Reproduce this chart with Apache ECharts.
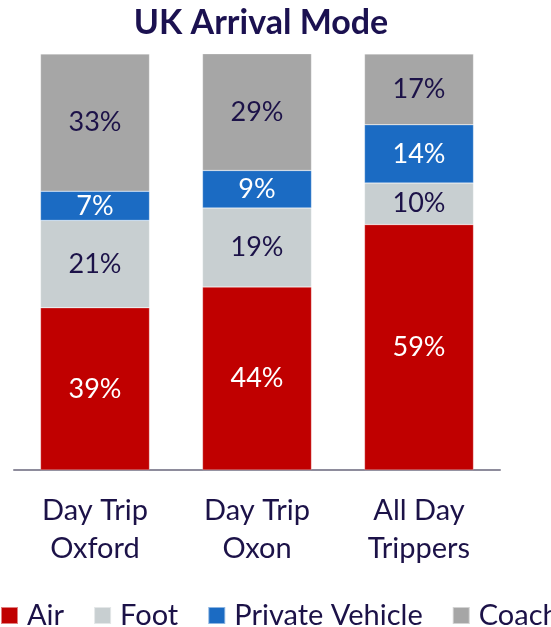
<!DOCTYPE html>
<html>
<head>
<meta charset="utf-8">
<script src="https://cdn.jsdelivr.net/npm/echarts@6/dist/echarts.min.js"></script>
<style>html,body{margin:0;padding:0;background:#fff}#c{width:551px;height:627px}</style>
</head>
<body>
<div id="c"></div>
<script>
const categories = ['Day Trip\nOxford', 'Day Trip\nOxon', 'All Day\nTrippers'];
const seriesNames = ['Air', 'Foot', 'Private Vehicle', 'Coach'];
const air = [39, 44, 59];
const foot = [21, 19, 10];
const privateVehicle = [7, 9, 14];
const coach = [33, 29, 17];

const colors = ['#C00000', '#C8CFD1', '#1B6BC3', '#A6A6A6'];
const labelColors = ['#FFFFFF', '#1C1248', '#FFFFFF', '#1C1248'];
const values = [air, foot, privateVehicle, coach];
const FONT = 'Lato';

const chart = echarts.init(document.getElementById('c'));
chart.setOption({
  animation: false,
  title: {
    text: 'UK Arrival Mode',
    left: 256, top: 1, textAlign: 'center',
    textStyle: { fontFamily: FONT, fontWeight: 'bold', fontSize: 34, color: '#1B1150' }
  },
  legend: {
    left: -5, top: 596, width: 900, itemWidth: 17, itemHeight: 17, itemGap: 29,
    icon: 'rect',
    textStyle: { fontFamily: FONT, fontSize: 29, color: '#1C1248', padding: [0, 0, 0, 4] },
    data: seriesNames
  },
  grid: { left: 14, right: 51, top: 54, bottom: 157, containLabel: false },
  xAxis: {
    type: 'category', data: categories,
    axisLine: { lineStyle: { color: '#8E8C9C', width: 2 } },
    axisTick: { show: false },
    axisLabel: { fontFamily: FONT, fontSize: 29, color: '#1C1248', lineHeight: 38, margin: 22 }
  },
  yAxis: { type: 'value', min: 0, max: 100, show: false, splitLine: { show: false } },
  series: seriesNames.map((n, i) => ({
    name: n, type: 'bar', stack: 'total', barWidth: 109,
    itemStyle: { color: colors[i], borderColor: 'rgba(255,255,255,0.5)', borderWidth: 0.5 },
    label: {
      show: true, position: 'inside', formatter: p => p.value + '%',
      fontFamily: FONT, fontSize: 27, color: labelColors[i]
    },
    data: values[i]
  }))
});
</script>
</body>
</html>
